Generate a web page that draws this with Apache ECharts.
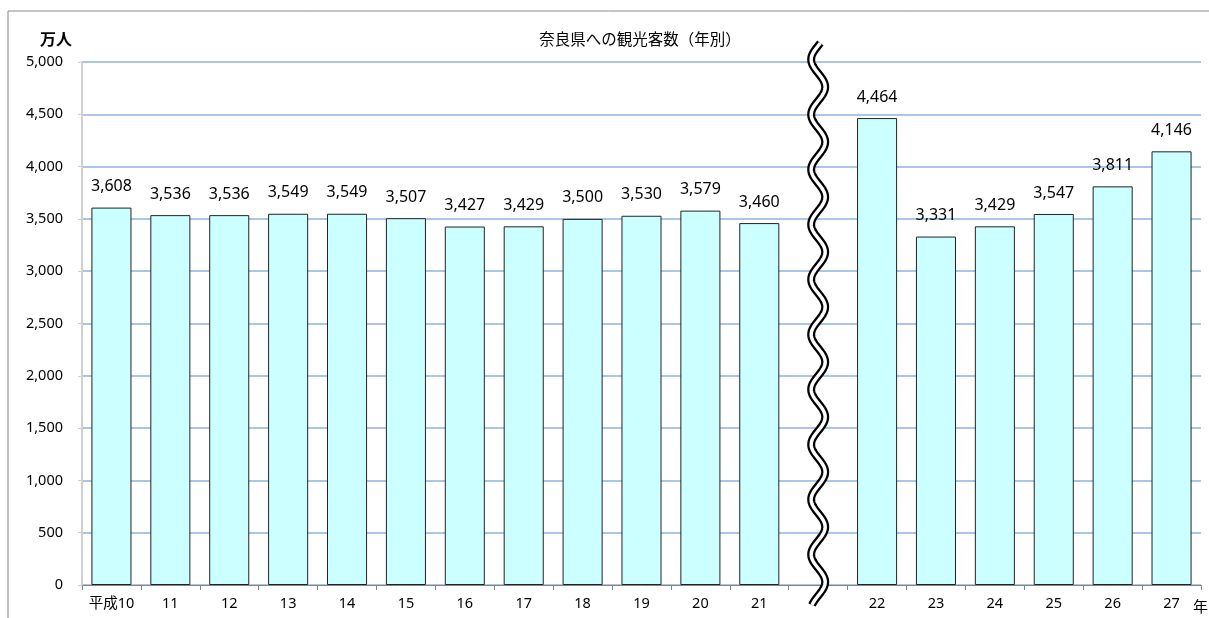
<!DOCTYPE html>
<html><head><meta charset="utf-8">
<script src="https://cdn.jsdelivr.net/npm/echarts@6/dist/echarts.min.js"></script>
<style>html,body{margin:0;padding:0;background:#fff}#c{width:1209px;height:618px}</style>
</head><body><div id="c"></div>
<script>
const categories = ['平成10','11','12','13','14','15','16','17','18','19','20','21','','22','23','24','25','26','27'];
const visitors = [3608,3536,3536,3549,3549,3507,3427,3429,3500,3530,3579,3460,'-',4464,3331,3429,3547,3811,4146];
const yTicks = {min:0, max:5000, interval:500};
const breakIndex = 12;

const FONT = "'Noto Sans', 'Noto Sans CJK JP', sans-serif";
const chart = echarts.init(document.getElementById('c'));
chart.setOption({
  animation:false,
  backgroundColor:'#fff',
  textStyle:{fontFamily:FONT},
  title:{text:'奈良県への観光客数（年別）', left:635, top:26, textAlign:'center',
    textStyle:{fontSize:15.5, fontWeight:'normal', color:'#000', fontFamily:"'Noto Sans CJK JP', sans-serif"}},
  grid:{left:82, right:8, top:62, bottom:33},
  xAxis:{type:'category', data:categories,
    axisLine:{lineStyle:{color:'#868686', width:1}},
    axisTick:{show:true, length:5, lineStyle:{color:'#868686'}},
    axisLabel:{color:'#000', fontSize:14.5, margin:12, fontFamily:FONT, interval:0}},
  yAxis:{type:'value', min:yTicks.min, max:yTicks.max, interval:yTicks.interval,
    axisLine:{show:true, lineStyle:{color:'#d0d0d0', width:2}},
    axisTick:{show:true, length:4, lineStyle:{color:'#d0d0d0'}},
    axisLabel:{color:'#000', fontSize:14.5, margin:19, fontFamily:FONT,
      formatter:v=>v.toLocaleString('en-US')},
    splitLine:{lineStyle:{color:'#8db3e2', width:1.5}}},
  series:[{type:'bar', data:visitors, barCategoryGap:'32%',
    itemStyle:{color:'#ccffff', borderColor:'#222', borderWidth:1},
    label:{show:true, position:'top', distance:13, color:'#000', fontSize:16, fontFamily:FONT,
      formatter:p=>Number(p.value).toLocaleString('en-US')}}]
});

function drawExtras(){
  const cx = chart.convertToPixel({xAxisIndex:0}, breakIndex);
  const yTop = chart.convertToPixel({yAxisIndex:0}, yTicks.max);
  const yBot = chart.convertToPixel({yAxisIndex:0}, yTicks.min);
  const y0 = yTop - 19, y1 = yBot + 20;
  const pts = [];
  const P = 55, A = 7, phase = yTop + 25 - P/4;
  for (let y=y0; y<=y1; y+=1){
    pts.push([cx + A*Math.sin(2*Math.PI*(y-phase)/P), y]);
  }
  chart.setOption({graphic:[
    {type:'line', shape:{x1:8,y1:11,x2:1209,y2:11}, style:{stroke:'#8a8a8a', lineWidth:1}},
    {type:'line', shape:{x1:8,y1:11,x2:8,y2:618}, style:{stroke:'#8a8a8a', lineWidth:1}},
    {type:'polyline', shape:{points:pts}, style:{stroke:'#000', lineWidth:8, fill:null, lineCap:'butt'}, z:100},
    {type:'polyline', shape:{points:pts}, style:{stroke:'#fff', lineWidth:3.5, fill:null, lineCap:'butt'}, z:101},
    {type:'text', left:40, top:31, style:{text:'万人', fill:'#000', font:"bold 16px 'Noto Sans CJK JP'"}},
    {type:'text', x:1193, y:yBot+21, style:{text:'年', fill:'#000', font:"15px 'Noto Sans CJK JP'", textVerticalAlign:'middle'}}
  ]});
}
drawExtras();
</script></body></html>
